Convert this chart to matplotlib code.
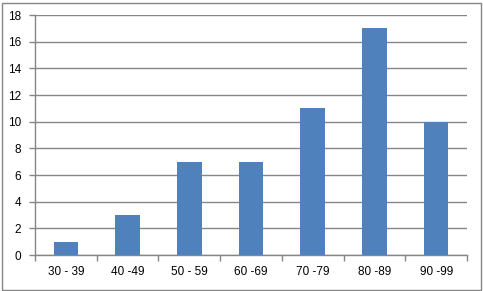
import numpy as np
import matplotlib.pyplot as plt

# 데이터
categories = ['30 - 39', '40 -49', '50 - 59', '60 -69', '70 -79', '80 -89', '90 -99']
counts = [1, 3, 7, 7, 11, 17, 10]
y_ticks = [0, 2, 4, 6, 8, 10, 12, 14, 16, 18]

plt.rcParams['font.family'] = ['Liberation Sans', 'DejaVu Sans']

fig = plt.figure(figsize=(4.83, 2.91), dpi=100)
ax = fig.add_axes([35 / 483, 1 - 255 / 291, 432 / 483, 240 / 291])

x = np.arange(len(categories))
ax.bar(x, counts, width=0.4, color='#4F81BD', zorder=3)

grid_c = '#868686'
ax.set_ylim(0, 18)
ax.set_yticks(y_ticks)
ax.yaxis.grid(True, color=grid_c, linewidth=1, zorder=0)
ax.set_xlim(-0.5, len(categories) - 0.5)
ax.set_xticks(x)
ax.set_xticklabels(categories)
ax.set_xticks(np.arange(len(categories) + 1) - 0.5, minor=True)

ax.tick_params(axis='x', which='major', length=0, pad=8, labelsize=8.5)
ax.tick_params(axis='x', which='minor', length=4, color=grid_c, width=1)
ax.tick_params(axis='y', length=4, color=grid_c, width=1, labelsize=8.5, pad=6)

for s in ['top', 'right']:
    ax.spines[s].set_visible(False)
for s in ['left', 'bottom']:
    ax.spines[s].set_color(grid_c)
    ax.spines[s].set_linewidth(1)

# 바깥 테두리
fig.patches.append(plt.Rectangle((1.5 / 483, 1.5 / 291), 479 / 483, 287 / 291,
                                 transform=fig.transFigure, fill=False,
                                 edgecolor=grid_c, linewidth=1))

plt.savefig('out.png', dpi=100)
